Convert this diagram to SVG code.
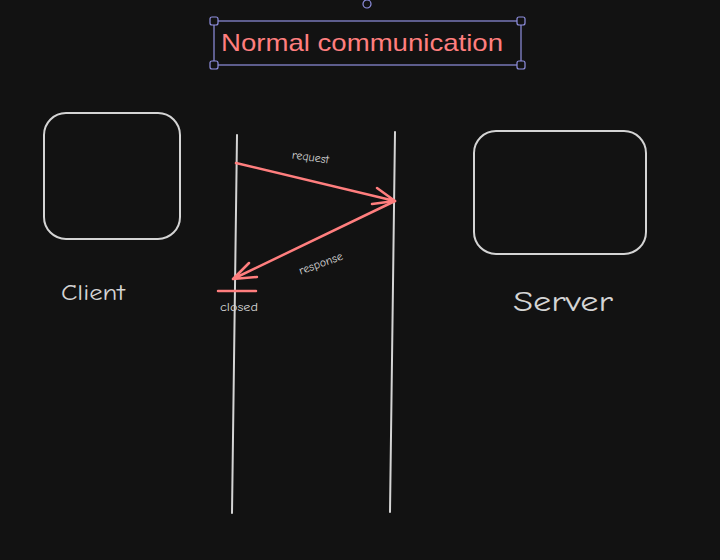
<svg xmlns="http://www.w3.org/2000/svg" width="720" height="560" viewBox="0 0 720 560">
<style>
.bg{fill:#121212}
.box{fill:none;stroke:#d4d4d4;stroke-width:2}
.life{stroke:#d4d4d4;stroke-width:2;fill:none;stroke-linecap:round}
.red{stroke:#ff7e7e;stroke-width:2.5;fill:none;stroke-linecap:round;stroke-linejoin:round}
.lbl{fill:#d4d4d4;font-family:"Comic Neue","Liberation Sans",sans-serif}
.title{fill:#ff7e7e;font-family:"Liberation Sans",sans-serif;font-size:24px}
.sel{fill:none;stroke:#8f8fe0;stroke-width:1.2}
.h{fill:#121212;stroke:#8f8fe0;stroke-width:1.2}
</style>
<rect class="bg" x="0" y="0" width="720" height="560"/>
<g id="title">
<text class="title" x="221" y="51" textLength="282" lengthAdjust="spacingAndGlyphs">Normal communication</text>
<rect class="sel" x="214" y="21" width="307" height="44"/>
<rect class="h" x="210" y="17" width="8" height="8" rx="2"/>
<rect class="h" x="517" y="17" width="8" height="8" rx="2"/>
<rect class="h" x="210" y="61" width="8" height="8" rx="2"/>
<rect class="h" x="517" y="61" width="8" height="8" rx="2"/>
<circle class="h" cx="367" cy="4" r="4"/>
</g>
<g id="client">
<rect class="box" x="44" y="113" width="136" height="126" rx="22"/>
<text class="lbl" x="61" y="300" font-size="22" textLength="64" lengthAdjust="spacingAndGlyphs">Client</text>
</g>
<g id="server">
<rect class="box" x="474" y="131" width="172" height="123" rx="22"/>
<text class="lbl" x="513" y="311" font-size="28" textLength="100" lengthAdjust="spacingAndGlyphs">Server</text>
</g>
<g id="client-lifeline">
<line class="life" x1="237" y1="135" x2="232" y2="513"/>
</g>
<g id="server-lifeline">
<line class="life" x1="395" y1="132" x2="390" y2="512"/>
</g>
<g id="closed">
<line class="red" x1="218" y1="291" x2="256" y2="291" stroke-width="2"/>
<text class="lbl" x="220" y="311" font-size="12" textLength="38" lengthAdjust="spacingAndGlyphs">closed</text>
</g>
<g id="connectors">
<path class="red" d="M236 163 L395 201 M377 188 L395 201 L372 204"/>
<path class="red" d="M395 201 L233 279 M249 263 L233 279 L257 277"/>
<text class="lbl" font-size="12" transform="translate(310 161) rotate(8)" text-anchor="middle">request</text>
<text class="lbl" font-size="12" transform="translate(322 267) rotate(-20)" text-anchor="middle">response</text>
</g>
</svg>
